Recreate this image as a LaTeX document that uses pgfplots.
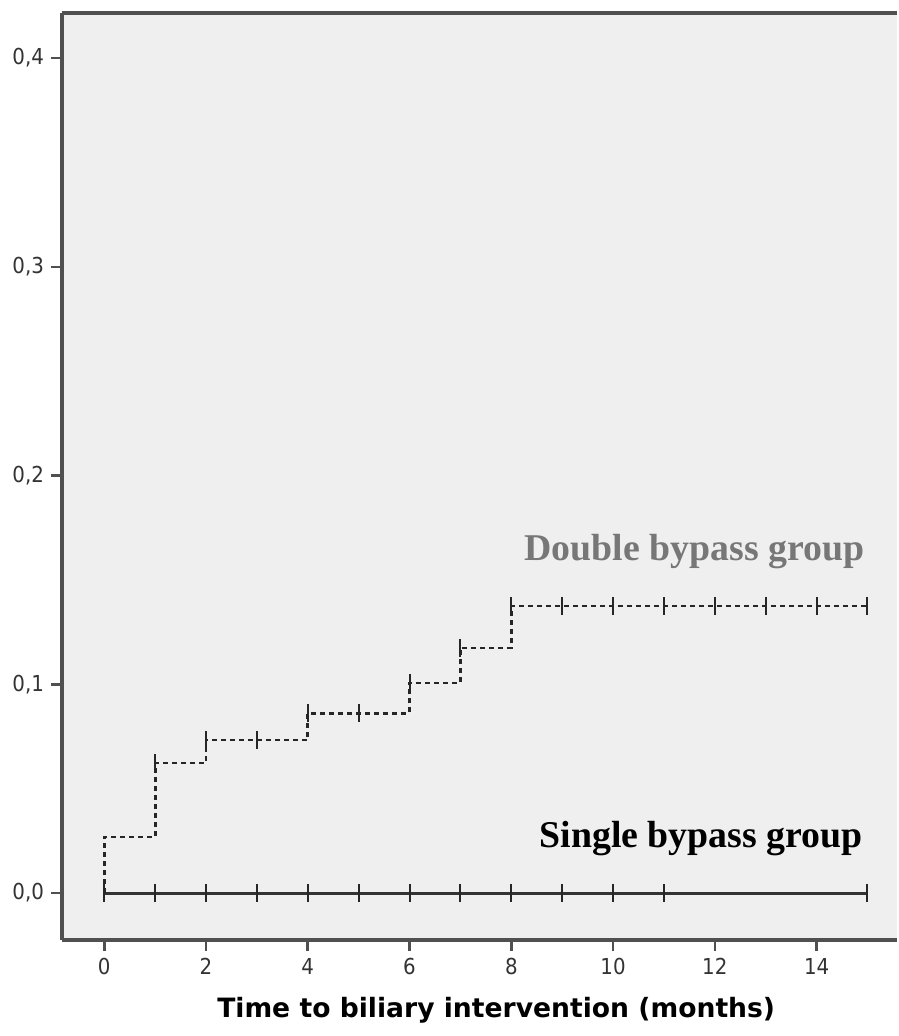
\documentclass[border=0pt]{standalone}
\usepackage{fontspec}
\setmainfont{DejaVu Sans}
\newfontfamily\condf{DejaVu Sans Condensed}
\newfontfamily\timesb{Liberation Serif}
\usepackage{pgfplots}
\pgfplotsset{compat=1.18}
\definecolor{axgray}{HTML}{505050}
\definecolor{bg}{HTML}{EFEFEF}
\definecolor{txtgray}{HTML}{777777}
\begin{document}
\begin{tikzpicture}
\begin{axis}[
  scale only axis,
  width=417.5pt, height=463.5pt,
  xmin=-0.83, xmax=15.58,
  ymin=-0.0225, ymax=0.4216,
  axis x line*=bottom, axis y line*=left,
  axis line style={-, draw=axgray, line width=1.8pt},
  axis background/.style={fill=bg},
  xtick={0,2,...,14},
  ytick={0,0.1,0.2,0.3,0.4},
  tick align=outside,
  major tick length=5.5pt,
  tick style={draw=axgray, line width=1.3pt},
  /pgf/number format/assume math mode=true,
  yticklabel style={/pgf/number format/.cd, fixed, fixed zerofill, precision=1, use comma},
  ticklabel style={font=\condf\fontsize{11}{13}\selectfont, text=black!80},
  xlabel={\bfseries Time to biliary intervention (months)},
  xlabel style={font=\fontsize{13.3}{16}\selectfont, at={(axis description cs:0.52,0)}, anchor=center, yshift=-35pt},
  clip=false,
]
% single bypass group
\addplot[draw=black!80, line width=1.5pt] coordinates {(0,0) (15,0)};
\addplot[only marks, mark=|, mark size=4.5pt, mark options={draw=black!85, line width=1pt}] coordinates {
(0,0)(1,0)(2,0)(3,0)(4,0)(5,0)(6,0)(7,0)(8,0)(9,0)(10,0)(11,0)(15,0)};
% double bypass group
\addplot[const plot, draw=black!85, line width=1.4pt, dash pattern=on 2.5pt off 2pt] coordinates {
(0,0) (0,0.0268) (1,0.0623) (2,0.0733) (4,0.0862) (6,0.1006) (7,0.1174) (8,0.1375) (15,0.1375)};
\addplot[only marks, mark=|, mark size=4.5pt, mark options={draw=black!85, line width=1pt}] coordinates {
(1,0.0623)(2,0.0733)(3,0.0733)(4,0.0862)(5,0.0862)(6,0.1006)(7,0.1174)(8,0.1375)(9,0.1375)(10,0.1375)(11,0.1375)(12,0.1375)(13,0.1375)(14,0.1375)(15,0.1375)};
\node[font=\timesb\bfseries\fontsize{18.9}{22}\selectfont, text=txtgray] at (axis cs:11.6,0.1634) {Double bypass group};
\node[font=\timesb\bfseries\fontsize{18.9}{22}\selectfont, text=black] at (axis cs:11.73,0.0263) {Single bypass group};
\draw[axgray, line width=1.8pt] (rel axis cs:0,1) -- (rel axis cs:1,1);
\end{axis}
\path ([shift={(-31pt,-48pt)}]current axis.south west) rectangle ([shift={(0pt,6.5pt)}]current axis.north east);
\end{tikzpicture}
\end{document}
